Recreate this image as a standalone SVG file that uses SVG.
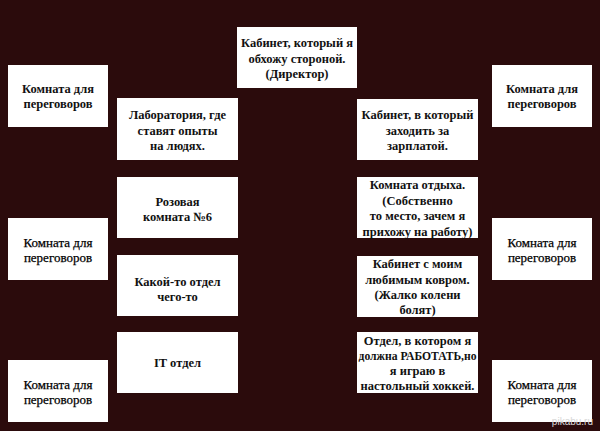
<svg xmlns="http://www.w3.org/2000/svg" width="600" height="431" viewBox="0 0 600 431">
<style>
.bg{fill:#2b0b0c}
.box{fill:#ffffff}
.t{font-family:"Liberation Serif","DejaVu Serif",serif;font-weight:bold;font-size:12.5px;fill:#111111;text-anchor:middle}
.r{font-family:"Liberation Serif","DejaVu Serif",serif;font-weight:normal;font-size:13px;fill:#000000;text-anchor:middle;stroke:#000000;stroke-width:0.25}
.wm{font-family:"Liberation Sans","DejaVu Sans",sans-serif;font-size:10px;fill:#d8d8d8;text-anchor:end}
</style>
<rect class="bg" x="0" y="0" width="600" height="431"/>
<g id="connectors"/>
<g id="director">
<rect class="box" x="237" y="27" width="120" height="61"/>
<text class="t" x="297" y="47">Кабинет, который я</text>
<text class="t" x="297" y="63">обхожу стороной.</text>
<text class="t" x="297" y="78">(Директор)</text>
</g>
<g id="meet-left-1">
<rect class="box" x="8" y="65" width="100" height="62"/>
<text class="t" x="58" y="93">Комната для</text>
<text class="t" x="58" y="108">переговоров</text>
</g>
<g id="meet-right-1">
<rect class="box" x="492" y="65" width="100" height="62"/>
<text class="t" x="542" y="93">Комната для</text>
<text class="t" x="542" y="108">переговоров</text>
</g>
<g id="meet-left-2">
<rect class="box" x="8" y="218" width="100" height="62"/>
<text class="r" x="58" y="247">Комната для</text>
<text class="r" x="58" y="262">переговоров</text>
</g>
<g id="meet-right-2">
<rect class="box" x="492" y="218" width="100" height="62"/>
<text class="r" x="542" y="247">Комната для</text>
<text class="r" x="542" y="262">переговоров</text>
</g>
<g id="meet-left-3">
<rect class="box" x="8" y="360" width="100" height="62"/>
<text class="r" x="58" y="389">Комната для</text>
<text class="r" x="58" y="404">переговоров</text>
</g>
<g id="meet-right-3">
<rect class="box" x="492" y="360" width="100" height="62"/>
<text class="r" x="542" y="389">Комната для</text>
<text class="r" x="542" y="404">переговоров</text>
</g>
<g id="lab">
<rect class="box" x="117" y="98" width="121" height="62"/>
<text class="t" x="177.5" y="119">Лаборатория, где</text>
<text class="t" x="177.5" y="135">ставят опыты</text>
<text class="t" x="177.5" y="150">на людях.</text>
</g>
<g id="pink-room">
<rect class="box" x="117" y="177" width="121" height="61"/>
<text class="t" x="177.5" y="206">Розовая</text>
<text class="t" x="177.5" y="221">комната №6</text>
</g>
<g id="some-dept">
<rect class="box" x="117" y="255" width="121" height="61"/>
<text class="t" x="177.5" y="286">Какой-то отдел</text>
<text class="t" x="177.5" y="301">чего-то</text>
</g>
<g id="it-dept">
<rect class="box" x="117" y="332" width="121" height="61"/>
<text class="t" x="177.5" y="367">IT отдел</text>
</g>
<g id="salary">
<rect class="box" x="357" y="99" width="121" height="61"/>
<text class="t" x="417.5" y="119">Кабинет, в который</text>
<text class="t" x="417.5" y="135">заходить за</text>
<text class="t" x="417.5" y="150">зарплатой.</text>
</g>
<g id="rest-room">
<rect class="box" x="357" y="177" width="121" height="61"/>
<text class="t" x="417.5" y="189">Комната отдыха.</text>
<text class="t" x="417.5" y="205">(Собственно</text>
<text class="t" x="417.5" y="220">то место, зачем я</text>
<text class="t" x="417.5" y="236">прихожу на работу)</text>
</g>
<g id="carpet">
<rect class="box" x="357" y="256" width="121" height="61"/>
<text class="t" x="417.5" y="268">Кабинет с моим</text>
<text class="t" x="417.5" y="284">любимым ковром.</text>
<text class="t" x="417.5" y="299">(Жалко колени</text>
<text class="t" x="417.5" y="314">болят)</text>
</g>
<g id="work-dept">
<rect class="box" x="357" y="332" width="121" height="61"/>
<text class="t" x="417.5" y="345">Отдел, в котором я</text>
<text class="t" x="417.5" y="360" textLength="118" lengthAdjust="spacingAndGlyphs">должна РАБОТАТЬ,но</text>
<text class="t" x="417.5" y="375">я играю в</text>
<text class="t" x="417.5" y="390">настольный хоккей.</text>
</g>
<text class="wm" x="593" y="425">pikabu.ru</text>
</svg>
